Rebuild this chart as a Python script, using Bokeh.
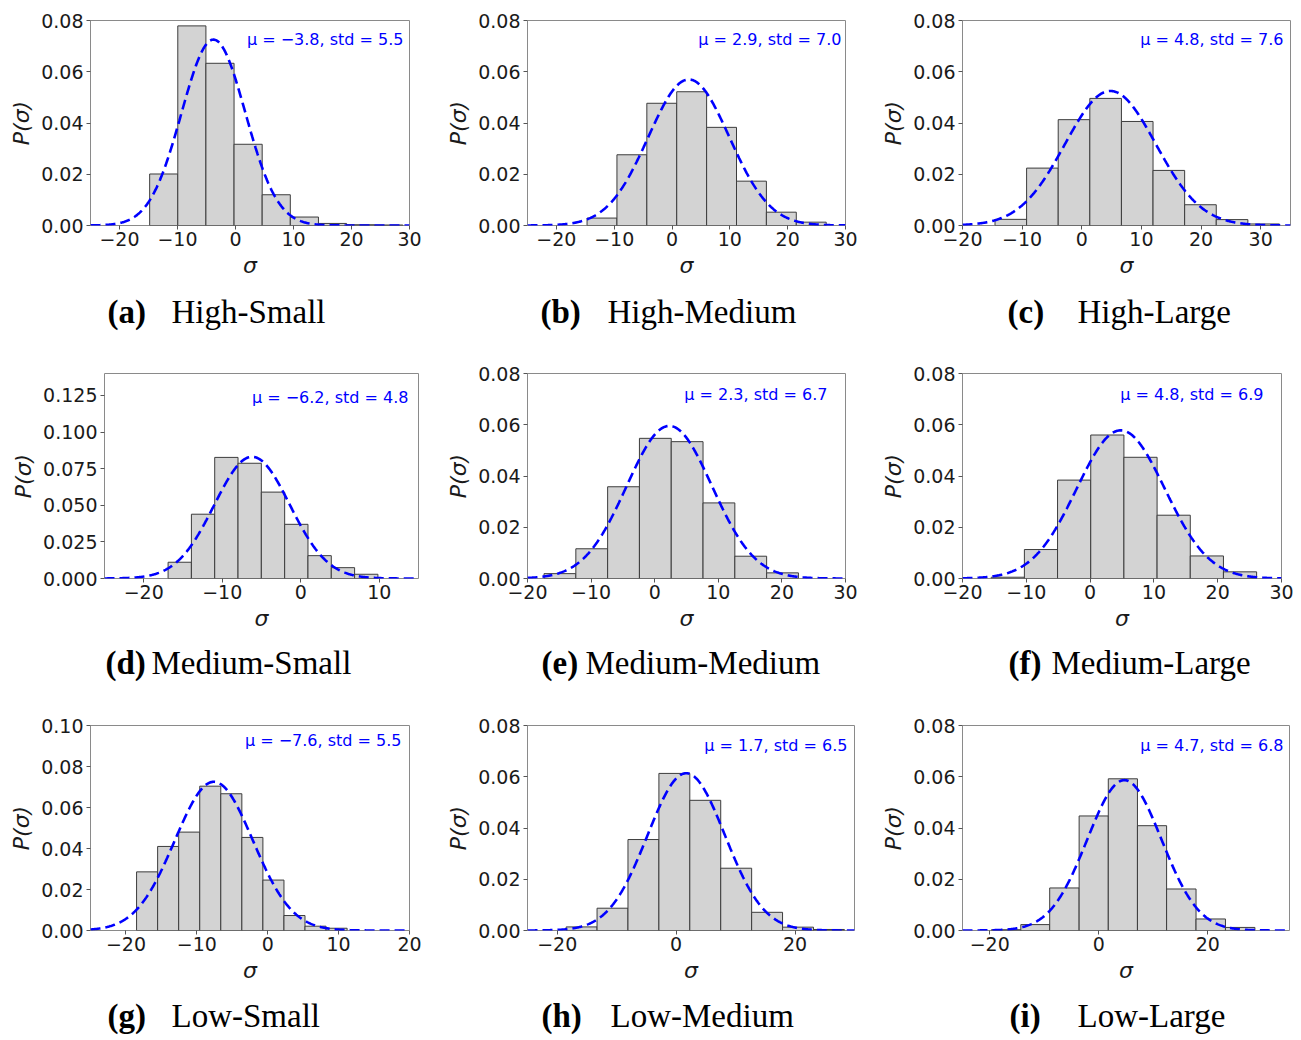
import numpy as np
from bokeh.plotting import figure
from bokeh.layouts import column, row
from bokeh.models import (Range1d, FixedTicker, NumeralTickFormatter,
                          CustomJSTickFormatter, Label, ColumnDataSource)
from bokeh.core.properties import value
from bokeh.embed import file_html
from bokeh.resources import INLINE

# ---------------- data ----------------
A_EDGES = [-14.8, -9.95, -5.1, -0.25, 4.6, 9.45, 14.3, 19.15, 24.0, 28.85]
A_DENS = [0.0201, 0.0779, 0.0633, 0.0317, 0.0120, 0.0033, 0.0008, 0.0003, 0.0002]
A_MU, A_STD = -3.8, 5.5

B_EDGES = [-14.7, -9.53, -4.36, 0.81, 5.98, 11.15, 16.32, 21.49, 26.66]
B_DENS = [0.0029, 0.0276, 0.0477, 0.0522, 0.0383, 0.0173, 0.0052, 0.0013]
B_MU, B_STD = 2.9, 7.0

C_EDGES = [-14.55, -9.25, -3.95, 1.35, 6.65, 11.95, 17.25, 22.55, 27.85, 33.15]
C_DENS = [0.0024, 0.0224, 0.0413, 0.0496, 0.0406, 0.0215, 0.0081, 0.0023, 0.0006]
C_MU, C_STD = 4.8, 7.6

D_EDGES = [-16.9, -13.93, -10.96, -7.99, -5.02, -2.05, 0.92, 3.89, 6.86, 9.83]
D_DENS = [0.0111, 0.0439, 0.0827, 0.0787, 0.0590, 0.0370, 0.0156, 0.0074, 0.0029]
D_MU, D_STD = -6.2, 4.8

E_EDGES = [-17.4, -12.4, -7.4, -2.4, 2.6, 7.6, 12.6, 17.6, 22.6]
E_DENS = [0.0019, 0.0116, 0.0358, 0.0547, 0.0534, 0.0295, 0.0087, 0.0022]
E_MU, E_STD = 2.3, 6.7

F_EDGES = [-15.5, -10.3, -5.1, 0.1, 5.3, 10.5, 15.7, 20.9, 26.1]
F_DENS = [0.0005, 0.0113, 0.0384, 0.0560, 0.0473, 0.0247, 0.0088, 0.0026]
F_MU, F_STD = 4.8, 6.9

G_EDGES = [-18.5, -15.53, -12.56, -9.59, -6.62, -3.65, -0.68, 2.29, 5.26, 8.23, 11.2]
G_DENS = [0.0286, 0.0410, 0.0480, 0.0704, 0.0667, 0.0454, 0.0246, 0.0073, 0.0021, 0.0011]
G_MU, G_STD = -7.6, 5.5

H_EDGES = [-18.5, -13.3, -8.1, -2.9, 2.3, 7.5, 12.7, 17.9, 23.1, 28.3]
H_DENS = [0.0014, 0.0087, 0.0355, 0.0613, 0.0508, 0.0243, 0.0071, 0.0013, 0.0004]
H_MU, H_STD = 1.7, 6.5

I_EDGES = [-19.7, -14.3, -9.0, -3.6, 1.75, 7.1, 12.45, 17.85, 23.25, 28.65]
I_DENS = [0.0003, 0.0023, 0.0166, 0.0447, 0.0592, 0.0409, 0.0162, 0.0045, 0.0012]
I_MU, I_STD = 4.7, 6.8

CAPTION_LETTERS = ["(a)", "(b)", "(c)", "(d)", "(e)", "(f)", "(g)", "(h)", "(i)"]
CAPTION_TEXTS = ["High-Small", "High-Medium", "High-Large",
                 "Medium-Small", "Medium-Medium", "Medium-Large",
                 "Low-Small", "Low-Medium", "Low-Large"]

XTICKS_A = [-20, -10, 0, 10, 20, 30]
XTICKS_D = [-20, -10, 0, 10]
XTICKS_G = [-20, -10, 0, 10, 20]
XTICKS_H = [-20, 0, 20]
YTICKS_008 = [0.0, 0.02, 0.04, 0.06, 0.08]
YTICKS_D = [0.0, 0.025, 0.05, 0.075, 0.1, 0.125]
YTICKS_G = [0.0, 0.02, 0.04, 0.06, 0.08, 0.10]

# ---------------- layout constants ----------------
COL_W = [430, 440, 431]
ROW_H = [285, 287, 290]
CAP_H = [65, 63, 48]
CAP_BASE = [38.5, 38, 23]

panels = [
    dict(edges=A_EDGES, dens=A_DENS, mu=A_MU, sd=A_STD, xr=(-25, 30), yr=(0, 0.08),
         xt=XTICKS_A, yt=YTICKS_008, yf="0.00", L=90, R=21, T=20, B=60, ins=6, drop=19,
         cx=(107, 171)),
    dict(edges=B_EDGES, dens=B_DENS, mu=B_MU, sd=B_STD, xr=(-25, 30), yr=(0, 0.08),
         xt=XTICKS_A, yt=YTICKS_008, yf="0.00", L=97, R=25, T=20, B=60, ins=4, drop=19,
         cx=(110, 177)),
    dict(edges=C_EDGES, dens=C_DENS, mu=C_MU, sd=C_STD, xr=(-20, 35), yr=(0, 0.08),
         xt=XTICKS_A, yt=YTICKS_008, yf="0.00", L=92, R=11, T=20, B=60, ins=7, drop=19,
         cx=(137, 207)),
    dict(edges=D_EDGES, dens=D_DENS, mu=D_MU, sd=D_STD, xr=(-25, 15), yr=(0, 0.14),
         xt=XTICKS_D, yt=YTICKS_D, yf="0.000", L=104, R=12, T=18, B=59, ins=10, drop=25,
         cx=(105, 151)),
    dict(edges=E_EDGES, dens=E_DENS, mu=E_MU, sd=E_STD, xr=(-20, 30), yr=(0, 0.08),
         xt=XTICKS_A, yt=YTICKS_008, yf="0.00", L=97, R=25, T=23, B=59, ins=18, drop=21,
         cx=(111, 155)),
    dict(edges=F_EDGES, dens=F_DENS, mu=F_MU, sd=F_STD, xr=(-20, 30), yr=(0, 0.08),
         xt=XTICKS_A, yt=YTICKS_008, yf="0.00", L=92, R=20, T=23, B=59, ins=18, drop=21,
         cx=(138, 181)),
    dict(edges=G_EDGES, dens=G_DENS, mu=G_MU, sd=G_STD, xr=(-25, 20), yr=(0, 0.10),
         xt=XTICKS_G, yt=YTICKS_G, yf="0.00", L=90, R=21, T=25, B=60, ins=8, drop=15,
         cx=(107, 171)),
    dict(edges=H_EDGES, dens=H_DENS, mu=H_MU, sd=H_STD, xr=(-25, 30), yr=(0, 0.08),
         xt=XTICKS_H, yt=YTICKS_008, yf="0.00", L=97, R=16, T=25, B=60, ins=7, drop=20,
         cx=(111, 180)),
    dict(edges=I_EDGES, dens=I_DENS, mu=I_MU, sd=I_STD, xr=(-25, 35), yr=(0, 0.08),
         xt=XTICKS_H, yt=YTICKS_008, yf="0.00", L=92, R=12, T=25, B=60, ins=6, drop=20,
         cx=(139, 207)),
]

TICK_FONT = "DejaVu Sans"
minus_fmt = CustomJSTickFormatter(code="return tick < 0 ? '\\u2212' + Math.abs(tick) : String(tick);")


def fmt_num(v):
    return ("\u2212" + f"{abs(v):.1f}") if v < 0 else f"{v:.1f}"


def make_panel(s, w, h):
    fw = w - s["L"] - s["R"]
    fh = h - s["T"] - s["B"]
    p = figure(width=w, height=h,
               min_border_left=s["L"], min_border_right=s["R"],
               min_border_top=s["T"], min_border_bottom=s["B"],
               x_range=Range1d(*s["xr"]), y_range=Range1d(*s["yr"]),
               toolbar_location=None, tools="", output_backend="svg")
    p.grid.visible = False
    p.outline_line_color = "#8a8a8a"
    p.outline_line_width = 1
    p.background_fill_color = "white"
    p.border_fill_color = "white"

    e = s["edges"]
    src = ColumnDataSource(dict(left=e[:-1], right=e[1:], top=s["dens"],
                                bottom=[0] * len(s["dens"])))
    p.quad(left="left", right="right", top="top", bottom="bottom", source=src,
           fill_color="#d3d3d3", line_color="#3c3c3c", line_width=1)

    xs = np.linspace(s["xr"][0], s["xr"][1], 500)
    ys = np.exp(-0.5 * ((xs - s["mu"]) / s["sd"]) ** 2) / (s["sd"] * np.sqrt(2 * np.pi))
    p.line(xs, ys, line_color="#0000ff", line_width=2.6, line_dash="10 5")

    xr, yr = s["xr"], s["yr"]
    lx = xr[1] - s["ins"] * (xr[1] - xr[0]) / fw
    ly = yr[1] - s["drop"] * (yr[1] - yr[0]) / fh
    p.add_layout(Label(x=lx, y=ly, text=f"μ = {fmt_num(s['mu'])}, std = {fmt_num(s['sd'])}",
                       text_align="right", text_baseline="middle",
                       text_color="#0000ff", text_font="DejaVu Sans",
                       text_font_size="16px"))

    for ax in (p.xaxis[0], p.yaxis[0]):
        ax.axis_line_color = None
        ax.major_tick_line_color = "#555555"
        ax.major_tick_out = 4
        ax.major_tick_in = 0
        ax.minor_tick_line_color = None
        ax.major_label_text_font = TICK_FONT
        ax.major_label_text_font_size = "19px"
        ax.major_label_text_color = "#1a1a1a"
        ax.axis_label_text_font = "DejaVu Sans"
        ax.axis_label_text_font_style = "italic"
        ax.axis_label_text_font_size = "22px"
        ax.axis_label_text_color = "#1a1a1a"

    p.xaxis.ticker = FixedTicker(ticks=s["xt"])
    p.xaxis.formatter = minus_fmt
    p.xaxis.major_label_standoff = 2
    p.xaxis.axis_label = "σ"
    p.xaxis.axis_label_standoff = 4

    p.yaxis.ticker = FixedTicker(ticks=s["yt"])
    p.yaxis.formatter = NumeralTickFormatter(format=s["yf"])
    p.yaxis.major_label_standoff = 3
    p.yaxis.axis_label = "P(σ)"
    p.yaxis.axis_label_standoff = 4
    return p


def make_caption(w, h, base, cx, letter, text):
    p = figure(width=w, height=h, x_range=Range1d(0, w), y_range=Range1d(0, h),
               min_border=0, toolbar_location=None, tools="", output_backend="svg",
               x_axis_location=None, y_axis_location=None)
    p.grid.visible = False
    p.outline_line_color = None
    p.text(x=[cx[0]], y=[base], text=[letter], text_font=value("Liberation Serif"),
           text_font_size="33px", text_font_style="bold", text_color="black",
           text_baseline="alphabetic", text_align="left")
    p.text(x=[cx[1]], y=[base], text=[text], text_font=value("Liberation Serif"),
           text_font_size="33px", text_color="black",
           text_baseline="alphabetic", text_align="left")
    return p


rows = []
for r in range(3):
    figs, caps = [], []
    for c in range(3):
        k = r * 3 + c
        s = panels[k]
        figs.append(make_panel(s, COL_W[c], ROW_H[r]))
        caps.append(make_caption(COL_W[c], CAP_H[r], CAP_BASE[r], s["cx"],
                                 CAPTION_LETTERS[k], CAPTION_TEXTS[k]))
    rows.append(row(*figs, spacing=0))
    rows.append(row(*caps, spacing=0))

layout = column(*rows, spacing=0)
open("out.html", "w").write(file_html(layout, INLINE))
